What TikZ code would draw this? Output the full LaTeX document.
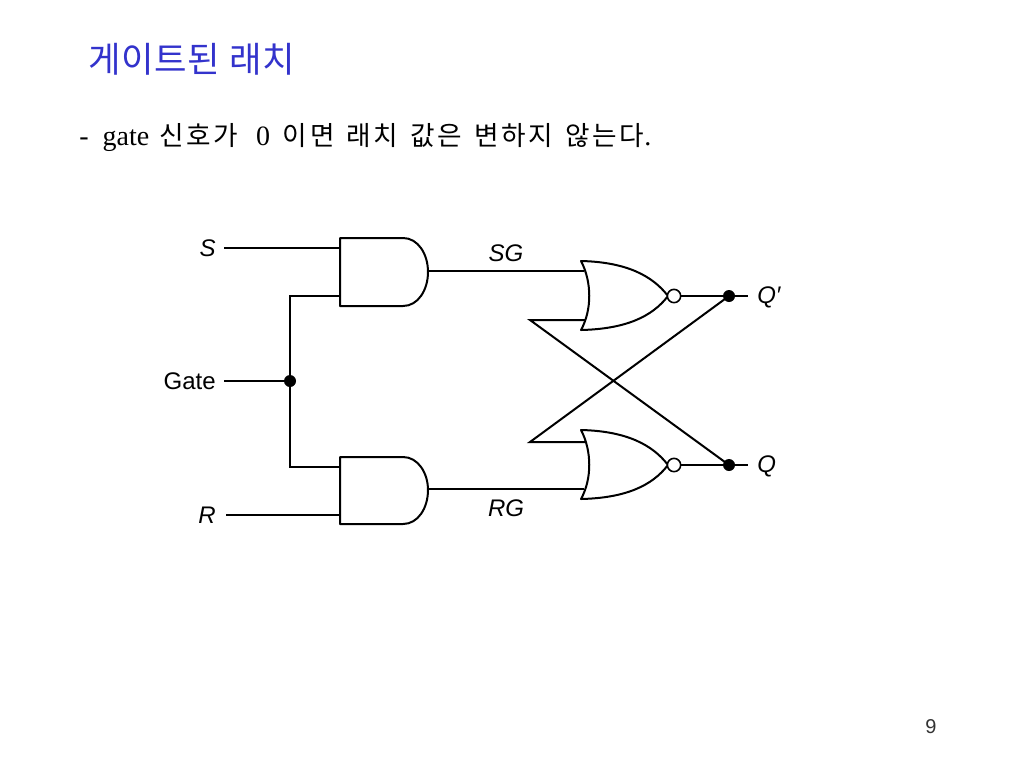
\documentclass[tikz,border=0pt]{standalone}
\usepackage{fontspec}
\setmainfont{Liberation Serif}
\setsansfont{Liberation Sans}
\newfontfamily\krfont[LetterSpace=2]{Noto Sans CJK KR}
\newfontfamily\krbody[LetterSpace=10,WordSpace=1.4]{Noto Sans CJK KR}
\usepackage{xcolor}
\definecolor{titleblue}{RGB}{51,51,204}
\tikzset{
  wire/.style={line width=1.5pt},
  gatebody/.style={line width=1.5pt, line join=round},
  sig/.style={inner sep=0pt, font=\sffamily\itshape\fontsize{18}{20}\selectfont},
  joint/.style={circle, fill=black, inner sep=0pt, minimum size=9pt},
  bubble/.style={circle, draw, line width=1.2pt, fill=white, inner sep=0pt, minimum size=10pt}
}
\begin{document}
\begin{tikzpicture}[x=0.75pt,y=-0.75pt]
        \useasboundingbox (0,0) rectangle (1024,768);
        % Titre et texte
        \node[anchor=west, inner sep=0pt, text=titleblue, font=\krfont\fontsize{26.5}{30}\selectfont] (title) at (88,59) {게이트된 래치};
        \node[anchor=west, inner sep=0pt, font=\fontsize{21}{24}\selectfont] (line) at (79,137) {-\ \ gate\hspace{7.5pt}{\krbody\fontsize{20}{24}\selectfont 신호가}\ \ \hspace{3pt}0\hspace{9.5pt}{\krbody\fontsize{20}{24}\selectfont 이면 래치 값은 변하지 않는다}.};
        \node[inner sep=0pt, font=\sffamily\fontsize{15}{18}\selectfont, text=black!80] (page) at (931,727) {9};
        % Entrees
        \node[sig, anchor=east] (S) at (216,248) {S};
        \node[sig, anchor=east, font=\sffamily\fontsize{18}{20}\selectfont] (Gate) at (216,381) {Gate};
        \node[sig, anchor=east] (R) at (216,515) {R};
        \coordinate (Sin) at (224,248);
        \coordinate (Gatein) at (224,381);
        \coordinate (Rin) at (226,515);
        % Portes ET
        \draw[gatebody] (403,238) -- (340,238) -- (340,306) -- (403,306) .. controls (418,306) and (428,290) .. (428,272) .. controls (428,254) and (418,238) .. (403,238);
        \draw[gatebody] (403,457) -- (340,457) -- (340,524) -- (403,524) .. controls (418,524) and (428,508) .. (428,490) .. controls (428,473) and (418,457) .. (403,457);
        \coordinate (and1a) at (340,248);
        \coordinate (and1b) at (340,296);
        \coordinate (and1out) at (428,271);
        \coordinate (and2a) at (340,467);
        \coordinate (and2b) at (340,515);
        \coordinate (and2out) at (428,489);
        % Portes NON-OU
        \draw[gatebody] (581,261) .. controls (625,262) and (652,275) .. (668,296) .. controls (652,317) and (625,329) .. (581,330) .. controls (592,310) and (592,282) .. (581,261) -- cycle;
        \draw[gatebody] (581,430) .. controls (625,431) and (652,444) .. (668,465) .. controls (652,486) and (625,498) .. (581,499) .. controls (592,479) and (592,451) .. (581,430) -- cycle;
        \coordinate (nor1a) at (584,271);
        \coordinate (nor1b) at (585,320);
        \coordinate (nor2a) at (585,442);
        \coordinate (nor2b) at (584,489);
        \node[bubble] (bub1) at (674,296) {};
        \node[bubble] (bub2) at (674,465) {};
        % Jonctions
        \node[joint] (dotG) at (290,381) {};
        \node[joint] (dotQp) at (729,296) {};
        \node[joint] (dotQ) at (729,465) {};
        \coordinate (up) at (290,296);
        \coordinate (down) at (290,467);
        \coordinate (back1) at (530,320);
        \coordinate (back2) at (530,442);
        \coordinate (Qpout) at (748,296);
        \coordinate (Qout) at (748,465);
        % Fils
        \draw[wire] (Sin) -- (and1a);
        \draw[wire] (Rin) -- (and2b);
        \draw[wire] (Gatein) -- (dotG.center);
        \draw[wire] (and1b) -- (up) -- (down) -- (and2a);
        \draw[wire] (and1out) -- (nor1a) node[pos=0.5, sig, yshift=13.5pt] (SG) {SG};
        \draw[wire] (and2out) -- (nor2b) node[pos=0.5, sig, yshift=-14.5pt] (RG) {RG};
        \draw[wire] (bub1) -- (Qpout);
        \draw[wire] (bub2) -- (Qout);
        \draw[wire, line join=miter] (nor1b) -- (back1) -- (dotQ.center);
        \draw[wire, line join=miter] (nor2a) -- (back2) -- (dotQp.center);
        % Sorties
        \node[sig, anchor=west] (Qp) at (757,297) {Q′};
        \node[sig, anchor=west] (Q) at (757,466) {Q};
    \end{tikzpicture}
\end{document}
